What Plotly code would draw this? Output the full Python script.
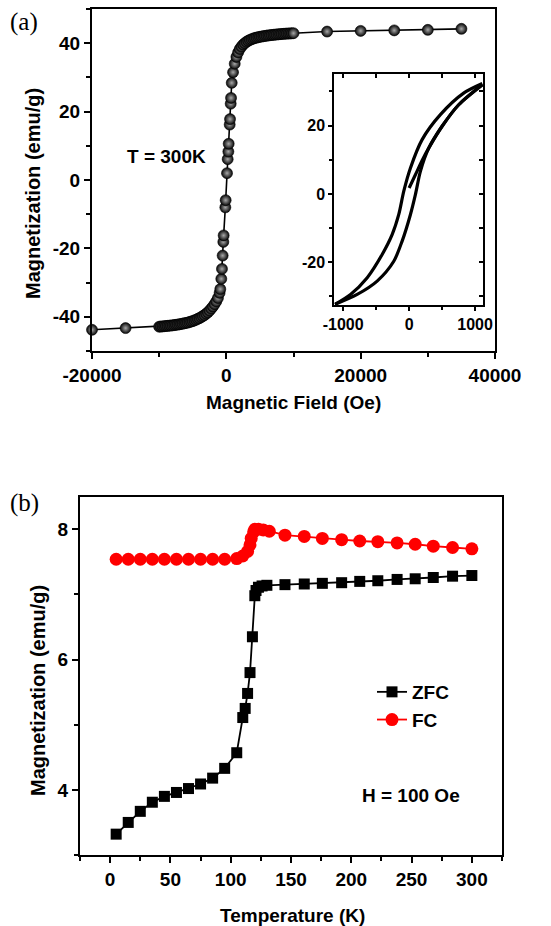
import plotly.graph_objects as go

# ---------------- Panel (a): M-H at 300 K ----------------
field_main = [-20000, -15000, -10000, -9750, -9500, -9250, -9000, -8750, -8500, -8250, -8000,
              -7750, -7500, -7250, -7000, -6750, -6500, -6250, -6000, -5750, -5500, -5250,
              -5000, -4750, -4500, -4250, -4000, -3750, -3500, -3250, -3000, -2750, -2500,
              -2250, -2000, -1750, -1500, -1250, -1000, -900, -750, -650, -550, -450, -400,
              -150, -100, 100, 200, 300, 350, 500, 550, 650, 700, 800,
              1000, 1250, 1500, 1750, 2000, 2250, 2500, 2750, 3000, 3250, 3500, 3750, 4000,
              4250, 4500, 4750, 5000, 5250, 5500, 5750, 6000, 6250, 6500, 6750, 7000, 7250,
              7500, 7750, 8000, 8250, 8500, 8750, 9000, 9250, 9500, 9750, 10000,
              15000, 20000, 25000, 30000, 35000]
mag_main = [-43.8, -43.3, -42.9, -42.85, -42.8, -42.75, -42.7, -42.65, -42.6, -42.55, -42.5,
            -42.42, -42.35, -42.28, -42.2, -42.1, -42.0, -41.9, -41.8, -41.7, -41.55, -41.4,
            -41.25, -41.05, -40.85, -40.6, -40.4, -40.1, -39.8, -39.5, -39.1, -38.7, -38.2,
            -37.6, -37.0, -36.3, -35.5, -34.5, -33.0, -31.9, -28.9, -26.0, -22.1, -18.1, -16.2,
            -8.0, -5.9, 2.0, 6.1, 8.3, 10.6, 16.2, 17.8, 22.3, 24.0, 28.4,
            31.5, 34.0, 36.0, 37.3, 38.3, 39.0, 39.6, 40.0, 40.4, 40.7, 40.95, 41.15, 41.35,
            41.5, 41.65, 41.75, 41.85, 41.95, 42.05, 42.12, 42.2, 42.27, 42.33, 42.4, 42.45, 42.5,
            42.55, 42.6, 42.65, 42.7, 42.73, 42.77, 42.8, 42.83, 42.86, 42.89, 42.92,
            43.4, 43.6, 43.75, 43.9, 44.2]

# Inset hysteresis loop (three branches)
loop_up1_h = [0, 95, 197, 297, 500, 752, 1110]
loop_up1_m = [1.75, 5.6, 9.8, 13.4, 19.8, 26.1, 32.0]
loop_down_h = [1110, 827, 474, 197, 20, -81, -157, -258, -409, -636, -889, -1125]
loop_down_m = [32.3, 29.5, 23.2, 15.9, 7.6, 0.8, -6.0, -11.9, -17.7, -24.5, -29.4, -32.3]
loop_up2_h = [-1125, -788, -485, -233, -106, 20, 95, 171, 297, 500, 752, 1110]
loop_up2_m = [-32.3, -29.4, -25.5, -19.7, -13.8, -6.0, -0.2, 6.6, 13.4, 19.8, 26.1, 31.9]

a_xticks = [-20000, 0, 20000, 40000]
a_xticktext = ["-20000", "0", "20000", "40000"]
a_yticks = [-40, -20, 0, 20, 40]
a_yticktext = ["-40", "-20", "0", "20", "40"]
in_xticks = [-1000, 0, 1000]
in_xticktext = ["-1000", "0", "1000"]
in_yticks = [-20, 0, 20]
in_yticktext = ["-20", "0", "20"]
in_xminor = [-1000, -500, 0, 500, 1000]
in_yminor = [-30, -20, -10, 0, 10, 20, 30]

# ---------------- Panel (b): ZFC / FC ----------------
zfc_t = [5, 15, 25, 35, 45, 55, 65, 75, 85, 95, 105, 110, 112, 114, 116, 118, 120, 121, 123,
         126, 130, 145, 161, 176, 192, 207, 222, 238, 253, 268, 284, 300]
zfc_m = [3.32, 3.50, 3.67, 3.81, 3.90, 3.96, 4.02, 4.09, 4.18, 4.33, 4.57, 5.11, 5.25, 5.48,
         5.80, 6.35, 6.98, 7.06, 7.11, 7.13, 7.14, 7.15, 7.16, 7.17, 7.18, 7.20, 7.21, 7.23,
         7.24, 7.26, 7.28, 7.29]
fc_t = [5, 15, 25, 35, 45, 55, 65, 75, 85, 95, 105, 110, 114, 116, 117, 119, 120, 123, 127,
        132, 145, 161, 176, 192, 207, 222, 238, 253, 268, 284, 300]
fc_m = [7.54, 7.54, 7.54, 7.54, 7.54, 7.54, 7.54, 7.54, 7.54, 7.54, 7.55, 7.59, 7.66, 7.76,
        7.86, 7.96, 8.00, 8.00, 7.99, 7.97, 7.91, 7.89, 7.86, 7.84, 7.82, 7.81, 7.79, 7.77,
        7.74, 7.72, 7.70]
b_xticks = [0, 50, 100, 150, 200, 250, 300]
b_yticks = [4, 6, 8]

FONT = "Liberation Sans, Arial, sans-serif"
W, H = 551, 926

def fx(px):
    return px / W

def fy(py):
    return 1 - py / H

fig = go.Figure()

# main M-H curve with shaded spheres
fig.add_trace(go.Scatter(
    x=field_main, y=mag_main, mode="lines+markers", xaxis="x", yaxis="y",
    line=dict(color="black", width=1.6),
    marker=dict(size=11, color="#050505", symbol="circle",
                gradient=dict(type="radial", color="#a8a8a8"),
                line=dict(color="black", width=0.6)),
    cliponaxis=False, showlegend=False, hoverinfo="skip"))

for hx, my in [(loop_up1_h, loop_up1_m), (loop_down_h, loop_down_m), (loop_up2_h, loop_up2_m)]:
    fig.add_trace(go.Scatter(
        x=hx, y=my, mode="lines", xaxis="x2", yaxis="y2",
        line=dict(color="black", width=3.2, shape="spline", smoothing=0.8),
        showlegend=False, hoverinfo="skip"))

# dummy trace for the inset's inward mirror ticks
fig.add_trace(go.Scatter(x=[None], y=[None], xaxis="x4", yaxis="y4", mode="markers",
                         showlegend=False, hoverinfo="skip"))

fig.add_trace(go.Scatter(
    x=zfc_t, y=zfc_m, mode="lines+markers", name="ZFC", xaxis="x3", yaxis="y3",
    line=dict(color="black", width=1.8),
    marker=dict(symbol="square", size=11, color="black"), cliponaxis=False))
fig.add_trace(go.Scatter(
    x=fc_t, y=fc_m, mode="lines+markers", name="FC", xaxis="x3", yaxis="y3",
    line=dict(color="red", width=1.8),
    marker=dict(symbol="circle", size=13, color="red"), cliponaxis=False))

tickfont = dict(family=FONT, size=19, color="black", weight="bold")
titlefont = dict(family=FONT, size=19, color="black", weight="bold")
ytitlefont = dict(family=FONT, size=20, color="black", weight="bold")
common = dict(showgrid=False, zeroline=False, showline=True, linecolor="black", linewidth=2,
              mirror=True, ticks="outside", tickcolor="black", tickwidth=2, ticklen=6,
              tickfont=tickfont, tickmode="array", automargin=False)
inset_font = dict(family=FONT, size=16, color="black", weight="bold")

fig.update_layout(
    width=W, height=H, autosize=False,
    margin=dict(l=0, r=0, t=0, b=0),
    paper_bgcolor="white", plot_bgcolor="white",
    xaxis=dict(domain=[fx(92), fx(495)], anchor="y", range=[-20000, 40000],
               tickvals=a_xticks, ticktext=a_xticktext,
               minor=dict(tickvals=[-10000, 10000, 30000], ticks="outside", ticklen=4,
                          tickwidth=2, tickcolor="black"), **common),
    yaxis=dict(domain=[fy(351), fy(9)], anchor="x", range=[-50, 50],
               tickvals=a_yticks, ticktext=a_yticktext,
               minor=dict(tickvals=[-50, -30, -10, 10, 30, 50], ticks="outside", ticklen=4,
                          tickwidth=2, tickcolor="black"), **common),
    xaxis2=dict(domain=[fx(334.3), fx(483.3)], anchor="y2", range=[-1135, 1125],
                tickvals=in_xticks, ticktext=in_xticktext,
                minor=dict(tickvals=[-500, 500], ticks="outside", ticklen=3,
                           tickwidth=2, tickcolor="black"),
                **{**common, "tickfont": inset_font, "ticklen": 4}),
    yaxis2=dict(domain=[fy(305), fy(74)], anchor="x2", range=[-32.5, 35.1],
                tickvals=in_yticks, ticktext=in_yticktext,
                minor=dict(tickvals=[-30, -10, 10, 30], ticks="outside", ticklen=3,
                           tickwidth=2, tickcolor="black"),
                **{**common, "tickfont": inset_font, "ticklen": 4}),
    xaxis4=dict(overlaying="x2", side="top", anchor="y2", range=[-1135, 1125],
                tickmode="array", tickvals=in_xminor, ticks="inside", ticklen=4, tickwidth=2,
                tickcolor="black", showticklabels=False, showgrid=False, zeroline=False,
                showline=False, automargin=False),
    yaxis4=dict(overlaying="y2", side="right", anchor="x2", range=[-32.5, 35.1],
                tickmode="array", tickvals=in_yminor, ticks="inside", ticklen=4, tickwidth=2,
                tickcolor="black", showticklabels=False, showgrid=False, zeroline=False,
                showline=False, automargin=False),
    xaxis3=dict(domain=[fx(80), fx(502)], anchor="y3", range=[-25, 325],
                tickvals=b_xticks,
                minor=dict(tickvals=[-25, 25, 75, 125, 175, 225, 275, 325], ticks="outside",
                           ticklen=4, tickwidth=2, tickcolor="black"), **common),
    yaxis3=dict(domain=[fy(855), fy(496.7)], anchor="x3", range=[3, 8.5],
                tickvals=b_yticks,
                minor=dict(tickvals=[3, 5, 7], ticks="outside", ticklen=4,
                           tickwidth=2, tickcolor="black"), **common),
    legend=dict(x=fx(372), y=fy(673), xanchor="left", yanchor="top",
                bgcolor="rgba(0,0,0,0)", borderwidth=0,
                font=dict(family=FONT, size=19, color="black", weight="bold"),
                tracegroupgap=0),
    annotations=[
        dict(text="(a)", x=fx(8), y=fy(22), xref="paper", yref="paper", xanchor="left",
             yanchor="middle", showarrow=False,
             font=dict(family="Liberation Serif, Times New Roman, serif", size=25, color="black")),
        dict(text="(b)", x=fx(8), y=fy(503), xref="paper", yref="paper", xanchor="left",
             yanchor="middle", showarrow=False,
             font=dict(family="Liberation Serif, Times New Roman, serif", size=25, color="black")),
        dict(text="T = 300K", x=fx(125), y=fy(156), xref="paper", yref="paper",
             xanchor="left", yanchor="middle", showarrow=False, font=titlefont),
        dict(text="H = 100 Oe", x=fx(360), y=fy(795), xref="paper", yref="paper",
             xanchor="left", yanchor="middle", showarrow=False, font=titlefont),
        dict(text="Magnetic Field (Oe)", x=fx(293), y=fy(402), xref="paper", yref="paper",
             xanchor="center", yanchor="middle", showarrow=False, font=titlefont),
        dict(text="Magnetization (emu/g)", x=fx(33), y=fy(194), xref="paper", yref="paper",
             xanchor="center", yanchor="middle", showarrow=False, textangle=-90, font=ytitlefont),
        dict(text="Temperature (K)", x=fx(292), y=fy(915), xref="paper", yref="paper",
             xanchor="center", yanchor="middle", showarrow=False, font=titlefont),
        dict(text="Magnetization (emu/g)", x=fx(38), y=fy(691), xref="paper", yref="paper",
             xanchor="center", yanchor="middle", showarrow=False, textangle=-90, font=ytitlefont),
    ],
)

fig.write_html("out.html")
